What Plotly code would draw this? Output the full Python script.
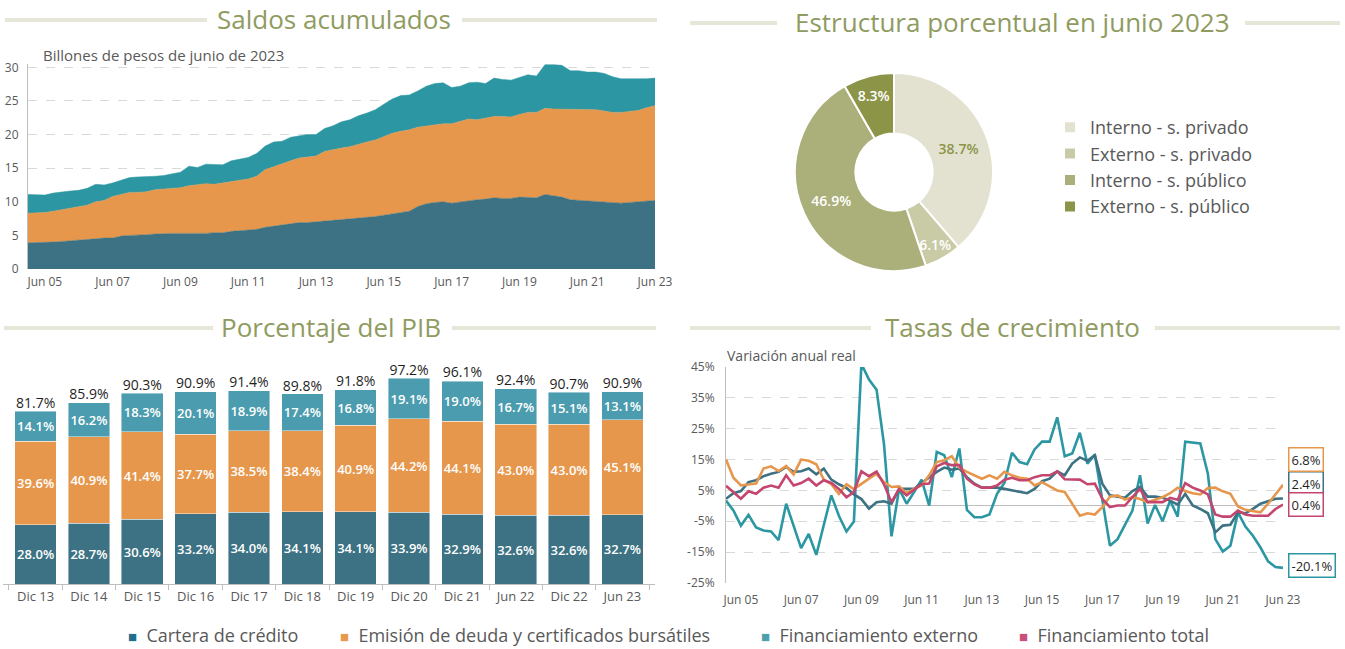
import plotly.graph_objects as go

W, H = 1345, 649

# ------------------------------------------------------------------ data
quarter_dates = []
for year in range(2004, 2024):
    for md in ("03-31", "06-30", "09-30", "12-31"):
        d = f"{year}-{md}"
        if "2004-12-31" <= d <= "2023-06-30":
            quarter_dates.append(d)

date_ticks = [f"{y}-06-30" for y in range(2005, 2024, 2)]
date_tick_labels = ["Jun 05", "Jun 07", "Jun 09", "Jun 11", "Jun 13",
                    "Jun 15", "Jun 17", "Jun 19", "Jun 21", "Jun 23"]

# Saldos acumulados (billones de pesos de junio de 2023)
cartera_saldo = [3.9, 3.9, 3.9, 4.0, 4.1, 4.2, 4.3, 4.5, 4.6, 4.6,
                 4.6, 4.9, 5.0, 5.0, 5.1, 5.2, 5.3, 5.3, 5.3, 5.3,
                 5.2, 5.3, 5.4, 5.4, 5.6, 5.7, 5.7, 5.9, 6.2, 6.4,
                 6.6, 6.7, 6.9, 6.9, 7.0, 7.1, 7.3, 7.4, 7.4, 7.5,
                 7.6, 7.8, 8.0, 8.2, 8.5, 8.6, 9.3, 9.7, 9.9, 10.0,
                 9.8, 10.0, 10.2, 10.3, 10.4, 10.6, 10.5, 10.5, 10.7, 10.7,
                 10.6, 11.1, 10.9, 10.7, 10.3, 10.2, 10.2, 10.0, 9.9, 9.8,
                 9.8, 9.9, 10.0, 10.1, 10.2]
emision_saldo = [4.4, 4.4, 4.5, 4.6, 4.7, 4.8, 4.9, 5.0, 5.4, 5.6,
                 6.2, 6.2, 6.4, 6.4, 6.4, 6.6, 6.6, 6.7, 6.8, 7.1,
                 7.4, 7.4, 7.2, 7.4, 7.5, 7.5, 7.7, 7.9, 8.6, 8.8,
                 9.1, 9.4, 9.6, 9.7, 9.8, 10.4, 10.5, 10.6, 10.8, 11.1,
                 11.3, 11.4, 11.7, 12.0, 12.0, 12.1, 11.8, 11.6, 11.6, 11.6,
                 11.8, 12.0, 12.1, 11.9, 12.1, 12.1, 12.2, 12.1, 12.3, 12.6,
                 12.7, 12.8, 12.9, 13.1, 13.5, 13.5, 13.5, 13.7, 13.6, 13.5,
                 13.5, 13.5, 13.6, 13.9, 14.1]
externo_saldo = [2.8, 2.7, 2.6, 2.7, 2.7, 2.6, 2.5, 2.5, 2.6, 2.3,
                 2.0, 2.1, 2.2, 2.3, 2.2, 2.0, 2.0, 2.1, 2.3, 2.9,
                 2.5, 2.9, 3.0, 2.7, 3.0, 3.1, 3.2, 3.4, 3.5, 3.7,
                 3.3, 3.5, 3.3, 3.4, 3.2, 3.4, 3.5, 3.9, 4.0, 4.2,
                 4.3, 4.5, 4.8, 5.1, 5.3, 5.2, 5.4, 5.9, 6.1, 6.1,
                 5.4, 5.2, 5.4, 5.6, 5.1, 5.7, 5.5, 5.5, 5.5, 5.6,
                 5.4, 6.5, 6.6, 6.5, 5.7, 5.8, 5.6, 5.6, 5.6, 5.3,
                 5.0, 4.9, 4.6, 4.3, 4.1]

# Tasas de crecimiento (variación anual real, %)
crec_cartera = [2.3, 4.1, 4.8, 7.7, 8.3, 9.6, 10.4, 11.0, 12.6, 11.0,
                11.2, 12.1, 10.2, 12.1, 8.5, 7.0, 5.8, 3.7, 2.2, -0.9,
                1.2, 1.5, 0.7, 5.5, 5.5, 5.5, 7.4, 9.3, 11.0, 12.4,
                11.7, 12.1, 9.3, 7.2, 5.9, 5.9, 5.9, 5.5, 5.0, 4.5,
                4.1, 5.5, 8.0, 8.8, 11.2, 9.9, 13.7, 15.7, 14.6, 16.4,
                7.2, 3.4, 3.0, 2.6, 4.8, 6.1, 3.0, 3.0, 2.6, 1.7,
                0.4, 3.9, 0.1, -1.0, -2.4, -8.6, -6.4, -6.1, -2.1, -2.4,
                -1.0, 0.7, 1.5, 2.3, 2.4]
crec_emision = [15.0, 9.1, 6.6, 7.0, 7.2, 12.1, 12.8, 11.3, 12.9, 10.2,
                15.0, 14.6, 13.5, 8.5, 7.0, 3.9, 7.0, 5.4, 7.2, 8.8,
                10.4, 7.7, 6.1, 6.3, 4.1, 5.5, 6.6, 9.9, 14.2, 14.8,
                16.1, 12.4, 11.0, 9.9, 8.8, 9.9, 8.8, 11.0, 9.9, 9.1,
                8.8, 6.6, 7.7, 6.3, 5.0, 4.5, 0.7, -3.2, -2.4, -2.8,
                -0.4, 3.0, 3.4, 2.0, 2.8, 2.2, 1.2, 2.0, 2.8, 4.1,
                5.9, 4.8, 4.1, 3.7, 5.8, 5.9, 4.7, 3.9, -0.2, -1.3,
                -1.8, -2.1, 0.7, 3.9, 6.8]
crec_externo = [1.7, -1.5, -6.4, -2.9, -7.0, -8.0, -8.3, -11.1, 0.7, -6.4,
                -13.7, -9.1, -15.9, -6.2, 3.4, -3.2, -8.3, -5.1, 46.0, 40.9,
                37.6, 20.0, -9.9, 5.5, 0.7, 4.5, 8.5, 0.1, 17.5, 16.4,
                9.3, 18.6, -1.3, -3.7, -3.7, -2.8, 3.9, 7.5, 17.2, 14.2,
                13.5, 18.3, 20.8, 20.8, 28.7, 16.1, 17.0, 23.7, 13.7, 16.6,
                1.7, -12.9, -10.8, -6.4, -1.5, 9.9, -5.7, 0.3, -5.0, 1.7,
                -3.5, 20.8, 20.6, 20.2, 10.4, -10.8, -14.8, -12.9, -2.1, -6.7,
                -9.7, -13.5, -18.0, -19.8, -20.1]
crec_total = [6.5, 4.5, 2.3, 4.7, 3.9, 5.9, 6.6, 5.9, 9.9, 6.6,
              7.4, 8.8, 6.6, 8.3, 7.4, 5.5, 2.8, 4.5, 11.2, 9.6,
              11.1, 7.0, 1.2, 5.5, 3.4, 5.2, 7.0, 7.2, 12.8, 13.9,
              13.2, 13.2, 8.8, 7.0, 5.9, 5.9, 6.6, 8.5, 9.1, 8.3,
              8.3, 9.3, 9.9, 9.9, 11.2, 8.6, 8.6, 8.5, 7.0, 7.2,
              2.3, -0.4, 0.1, 0.1, 2.8, 5.5, 1.2, 1.3, 1.2, 2.6,
              2.0, 7.4, 5.9, 5.0, 3.7, -2.8, -3.5, -3.5, -1.5, -2.8,
              -3.2, -3.2, -3.2, -1.0, 0.4]
growth_ticks = [-25, -15, -5, 5, 15, 25, 35, 45]

# Porcentaje del PIB
bar_periods = ["Dic 13", "Dic 14", "Dic 15", "Dic 16", "Dic 17", "Dic 18",
               "Dic 19", "Dic 20", "Dic 21", "Jun 22", "Dic 22", "Jun 23"]
pib_cartera = [28.0, 28.7, 30.6, 33.2, 34.0, 34.1, 34.1, 33.9, 32.9, 32.6, 32.6, 32.7]
pib_emision = [39.6, 40.9, 41.4, 37.7, 38.5, 38.4, 40.9, 44.2, 44.1, 43.0, 43.0, 45.1]
pib_externo = [14.1, 16.2, 18.3, 20.1, 18.9, 17.4, 16.8, 19.1, 19.0, 16.7, 15.1, 13.1]
pib_total = [81.7, 85.9, 90.3, 90.9, 91.4, 89.8, 91.8, 97.2, 96.1, 92.4, 90.7, 90.9]

# Estructura porcentual en junio 2023
pie_labels = ["Interno - s. privado", "Externo - s. privado",
              "Interno - s. público", "Externo - s. público"]
pie_values = [38.7, 6.1, 46.9, 8.3]

# ------------------------------------------------------------------ style
FONT = "Open Sans, Lato, sans-serif"
GREY = "#595959"
AXIS = "#BFBFBF"
GRID = "#D9D9D9"
TITLE = "#8F9B5F"
TITLE_LINE = "#E6E6D9"

C_DARK = "#3C7283"
C_ORANGE = "#E6974C"
C_TEAL = "#2C97A3"
C_BAR_TEAL = "#4B9CAE"
C_MAGENTA = "#C4466F"
PIE_COLORS = ["#E3E2D0", "#C9CAA6", "#ABAF7A", "#8C9448"]


def px(x):
    return x / W


def py(y):
    return 1 - y / H


fig = go.Figure()

# ---------------------------------------------------------- area chart
for name, vals, col in [("Cartera de crédito", cartera_saldo, C_DARK),
                        ("Emisión de deuda y certificados bursátiles", emision_saldo, C_ORANGE),
                        ("Financiamiento externo", externo_saldo, C_TEAL)]:
    fig.add_trace(go.Scatter(x=quarter_dates, y=vals, name=name, mode="lines",
                             stackgroup="saldos", line=dict(width=0.5, color=col),
                             fillcolor=col, showlegend=False, xaxis="x", yaxis="y"))

# ---------------------------------------------------------- bar chart
for name, vals, col in [("Cartera de crédito", pib_cartera, C_DARK),
                        ("Emisión de deuda y certificados bursátiles", pib_emision, C_ORANGE),
                        ("Financiamiento externo", pib_externo, C_BAR_TEAL)]:
    fig.add_trace(go.Bar(x=bar_periods, y=vals, name=name, marker_color=col,
                         marker_line=dict(width=0.8, color="rgba(255,255,255,0.55)"),
                         text=[f"{v:.1f}%" for v in vals], textposition="inside",
                         insidetextanchor="middle", constraintext="none", textangle=0,
                         textfont=dict(color="white", size=13, family=FONT, weight=600),
                         showlegend=False, xaxis="x2", yaxis="y2"))

fig.add_trace(go.Scatter(x=bar_periods, y=pib_total, mode="text",
                         text=[f"{v:.1f}%" for v in pib_total], textposition="top center",
                         textfont=dict(color="#1F1F1F", size=14, family=FONT),
                         cliponaxis=False, showlegend=False, xaxis="x2", yaxis="y2"))

# ---------------------------------------------------------- growth chart
growth = [("Financiamiento externo", crec_externo, C_TEAL, 2),
          ("Cartera de crédito", crec_cartera, C_DARK, 15),
          ("Emisión de deuda y certificados bursátiles", crec_emision, C_ORANGE, 25),
          ("Financiamiento total", crec_total, C_MAGENTA, 0)]
for name, vals, col, _ in growth:
    fig.add_trace(go.Scatter(x=quarter_dates, y=vals, name=name, mode="lines",
                             line=dict(width=2.6, color=col), showlegend=False,
                             xaxis="x3", yaxis="y3"))

# ---------------------------------------------------------- pie
fig.add_trace(go.Pie(labels=pie_labels, values=pie_values, sort=False,
                     direction="clockwise", rotation=0, hole=0.39,
                     marker=dict(colors=PIE_COLORS, line=dict(color="white", width=2)),
                     texttemplate="%{value:.1f}%", textposition="inside",
                     insidetextorientation="horizontal",
                     textfont=dict(color=["#8C9448", "white", "white", "white"],
                                   size=14, family=FONT, weight=600),
                     domain=dict(x=[px(795), px(993)], y=[py(271), py(73)]),
                     legend="legend2", showlegend=True, hoverinfo="label+percent"))

# ---------------------------------------------------------- annotations
annotations = []
shapes = []


def section_title(text, cx, cy, left_line, right_line):
    annotations.append(dict(text=text, x=px(cx), y=py(cy), xref="paper", yref="paper",
                            showarrow=False, xanchor="center", yanchor="middle",
                            font=dict(size=26, color=TITLE, family=FONT)))
    for x0, x1 in (left_line, right_line):
        shapes.append(dict(type="line", xref="paper", yref="paper",
                           x0=px(x0), x1=px(x1), y0=py(cy + 1), y1=py(cy + 1),
                           line=dict(color=TITLE_LINE, width=4)))


section_title("Saldos acumulados", 334, 19, (5, 207), (462, 657))
section_title("Estructura porcentual en junio 2023", 1012, 22, (690, 777), (1245, 1340))
section_title("Porcentaje del PIB", 331, 327, (4, 213), (452, 656))
section_title("Tasas de crecimiento", 1012, 327, (690, 871), (1155, 1340))

annotations.append(dict(text="Billones de pesos de junio de 2023", x=px(41), y=py(55),
                        xref="paper", yref="paper", showarrow=False, xanchor="left",
                        yanchor="middle", font=dict(size=15, color=GREY, family=FONT)))
annotations.append(dict(text="Variación anual real", x=px(725), y=py(355),
                        xref="paper", yref="paper", showarrow=False, xanchor="left",
                        yanchor="middle", font=dict(size=14, color=GREY, family=FONT)))

for name, vals, col, shift in growth:
    annotations.append(dict(text=f"{vals[-1]:.1f}%", x=quarter_dates[-1], y=vals[-1],
                            xref="x3", yref="y3", showarrow=False, xanchor="left",
                            yanchor="middle", xshift=5, yshift=shift,
                            bordercolor=col, borderwidth=1.5, borderpad=2, bgcolor="white",
                            font=dict(size=13, color="#1F1F1F", family=FONT)))

# shared legend at the bottom
legend_items = [("Cartera de crédito", "#1F6E8C", 127),
                ("Emisión de deuda y certificados bursátiles", "#E8994B", 339),
                ("Financiamiento externo", "#4FA0AE", 760),
                ("Financiamiento total", "#C8507A", 1018)]
for text, col, x_left in legend_items:
    annotations.append(dict(text=f'<span style="color:{col};font-size:15px">■</span>&nbsp; {text}',
                            x=px(x_left), y=py(648), xref="paper", yref="paper",
                            showarrow=False, xanchor="left", yanchor="bottom", borderpad=0,
                            font=dict(size=18, color=GREY, family=FONT)))

# ---------------------------------------------------------- layout
tick_font = dict(size=12, color=GREY, family=FONT)

fig.update_layout(
    width=W, height=H, margin=dict(l=0, r=0, t=0, b=0, pad=0, autoexpand=False),
    paper_bgcolor="white", plot_bgcolor="white",
    font=dict(family=FONT, color=GREY),
    barmode="stack", bargap=0.22,
    uniformtext=dict(minsize=13, mode="show"),
    showlegend=True,
    legend2=dict(x=px(1050), y=py(109), xanchor="left", yanchor="top",
                 font=dict(size=18, color=GREY, family=FONT), bgcolor="rgba(0,0,0,0)",
                 itemwidth=30, traceorder="normal"),
    # area chart
    xaxis=dict(domain=[px(28), px(655)], type="date", automargin=False,
               range=[quarter_dates[0], quarter_dates[-1]],
               tickvals=date_ticks, ticktext=date_tick_labels, tickfont=tick_font,
               showgrid=False, showline=False, zeroline=False, ticks="",
               ticklabelstandoff=4, anchor="y"),
    yaxis=dict(domain=[py(269), py(64)], range=[0, 30.5], automargin=False,
               tickvals=[0, 5, 10, 15, 20, 25, 30], tickfont=tick_font,
               showgrid=True, gridcolor=GRID, griddash="dash", gridwidth=1,
               showline=True, linecolor=AXIS, zeroline=False, ticks="",
               ticklabelstandoff=6, anchor="x"),
    # bar chart
    xaxis2=dict(domain=[px(3), px(655)], type="category", automargin=False,
                tickfont=dict(size=13, color=GREY, family=FONT),
                showline=True, linecolor=AXIS, ticks="outside", tickson="boundaries",
                ticklen=5, tickcolor=AXIS, showgrid=False, anchor="y2"),
    yaxis2=dict(domain=[py(584), py(362)], range=[0, 105], visible=False,
                automargin=False, anchor="x2"),
    # growth chart
    xaxis3=dict(domain=[px(726), px(1283)], type="date", automargin=False,
                range=[quarter_dates[0], quarter_dates[-1]],
                tickvals=date_ticks, ticktext=date_tick_labels, tickfont=tick_font,
                showgrid=False, showline=False, zeroline=False, ticks="",
                ticklabelstandoff=8, anchor="y3"),
    yaxis3=dict(domain=[py(583), py(367)], range=[-25, 45], automargin=False,
                tickvals=growth_ticks, ticktext=[f"{v}%" for v in growth_ticks],
                tickfont=tick_font, showgrid=True, gridcolor=GRID, griddash="dash",
                showline=True, linecolor=AXIS, zeroline=True, zerolinecolor=AXIS,
                zerolinewidth=1.2, ticks="", ticklabelstandoff=8, anchor="x3"),
    annotations=annotations,
    shapes=shapes,
)

fig.write_html("out.html", config={"displayModeBar": False},
               post_script="document.body.style.margin='0';document.body.style.overflow='hidden';")
